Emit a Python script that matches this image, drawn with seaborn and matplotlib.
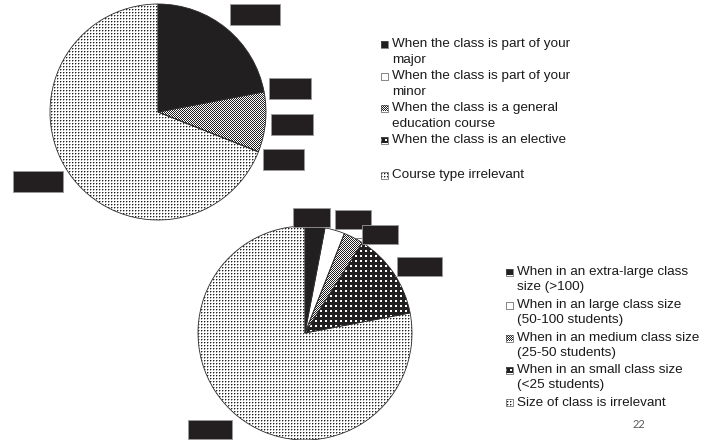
import numpy as np
import matplotlib
matplotlib.use("Agg")
import matplotlib.pyplot as plt
from matplotlib.patches import Rectangle
import seaborn as sns

# Survey results: share of respondents for each situation (percent)
course_labels = [
    "When the class is part of your\nmajor",
    "When the class is part of your\nminor",
    "When the class is a general\neducation course",
    "When the class is an elective",
    "Course type irrelevant",
]
course_values = [22, 0, 9, 0, 69]

size_labels = [
    "When in an extra-large class\nsize (>100)",
    "When in an large class size\n(50-100 students)",
    "When in an medium class size\n(25-50 students)",
    "When in an small class size\n(<25 students)",
    "Size of class is irrelevant",
]
size_values = [3, 3, 3, 13, 78]

page_number = "22"

sns.set_theme(style="white")
plt.rcParams["font.family"] = ["Liberation Sans", "DejaVu Sans"]

W, H = 706, 440
INK = "#231f20"
INK_RGB = np.array([0x23, 0x1F, 0x20]) / 255.0

fig = plt.figure(figsize=(W / 100, H / 100), dpi=100)
fig.patch.set_facecolor("white")
ax = fig.add_axes([0, 0, 1, 1])

# pixel-grid fill patterns shared by both pies and their legends
rows, cols = np.mgrid[0:H, 0:W]


def pattern(kind):
    if kind == "solid":
        ink = np.ones((H, W))
    elif kind == "blank":
        ink = np.zeros((H, W))
    elif kind == "checker":
        ink = ((rows + cols) % 2 == 0).astype(float)
    elif kind == "confetti":
        ink = 1.0 - (((rows % 5) < 2) & ((cols % 5) < 2)).astype(float)
    else:  # fine dots
        ink = np.zeros((H, W))
        ink[(rows % 3 == 0) & (cols % 3 == 0)] = 1.0
        ink[(rows % 3 == 0) & (cols % 3 == 1)] = 0.4
        ink[(rows % 3 == 1) & (cols % 3 == 0)] = 0.4
    return 1.0 - ink[..., None] * (1.0 - INK_RGB)


fills = ["solid", "blank", "checker", "confetti", "dots"]
textures = {k: pattern(k) for k in fills}


def fill_patch(patch, kind):
    im = ax.imshow(textures[kind], extent=(0, W, 0, H), origin="upper",
                   interpolation="nearest", zorder=1)
    im.set_clip_path(patch)


def draw_pie(values, cx, cy, r):
    wedges, _ = ax.pie(values, center=(cx, H - cy), radius=r, startangle=90,
                       counterclock=False, frame=True,
                       wedgeprops=dict(facecolor="none", edgecolor="#2b2b2b",
                                       linewidth=0.6, zorder=2))
    for w, kind in zip(wedges, fills):
        fill_patch(w, kind)
    return wedges


def draw_legend(labels, x_box, x_text, first_lines, step=15.5, box=7):
    for label, kind, y0 in zip(labels, fills, first_lines):
        for i, line in enumerate(label.split("\n")):
            ax.text(x_text, H - (y0 + i * step), line, ha="left", va="center",
                    fontsize=9.7, color="#1a1a1a", zorder=4)
        sq = Rectangle((x_box, H - y0 - box / 2), box, box, facecolor="none",
                       edgecolor="#555555", linewidth=0.5, zorder=3)
        ax.add_patch(sq)
        fill_patch(sq, kind)


tags = []


def draw_tags(values, spots, mx, h):
    for v, (x, y) in zip(values, spots):
        t = ax.text(x, H - y, f"{v}%", ha="center", va="center", fontsize=10.4,
                    color=INK, zorder=6)
        tags.append((t, x, H - y, mx, h))


# course-type pie
top = draw_pie(course_values, 158, 112, 108)
draw_tags(course_values,
          [(255, 14.5), (290, 88), (292, 124), (283.5, 159.5), (38, 181.5)],
          mx=10.5, h=21)
draw_legend(course_labels, 381, 392, [44, 76, 108, 140, 175])

# class-size pie
bottom = draw_pie(size_values, 305, 333, 107)
draw_tags(size_values,
          [(311.5, 217), (353, 219), (380, 234), (419.5, 266.5), (210, 429.5)],
          mx=8, h=19)
draw_legend(size_labels, 506, 517, [272, 305, 338, 370, 403], step=15)

# leader line from the medium-size label to its slice
w3 = bottom[2]
mid = np.deg2rad((w3.theta1 + w3.theta2) / 2)
px = w3.center[0] + w3.r * np.cos(mid)
py = w3.center[1] + w3.r * np.sin(mid)
ax.plot([px, 362], [py, py], color="#666666", linewidth=0.6, zorder=3)

ax.text(639, H - 425, page_number, ha="center", va="center", fontsize=8,
        color="#595959", family=["Lato", "DejaVu Sans"])

ax.set_xlim(0, W)
ax.set_ylim(0, H)
ax.set_autoscale_on(False)
ax.axis("off")

# data-label boxes sized around their text
fig.canvas.draw()
renderer = fig.canvas.get_renderer()
for t, x, y, mx, h in tags:
    bb = t.get_window_extent(renderer)
    w = bb.width + 2 * mx
    ax.add_patch(Rectangle((x - w / 2, y - h / 2), w, h, facecolor=INK,
                           edgecolor="#9a9a9a", linewidth=0.6, zorder=5))

fig.savefig("out.png", dpi=100, facecolor="white")
